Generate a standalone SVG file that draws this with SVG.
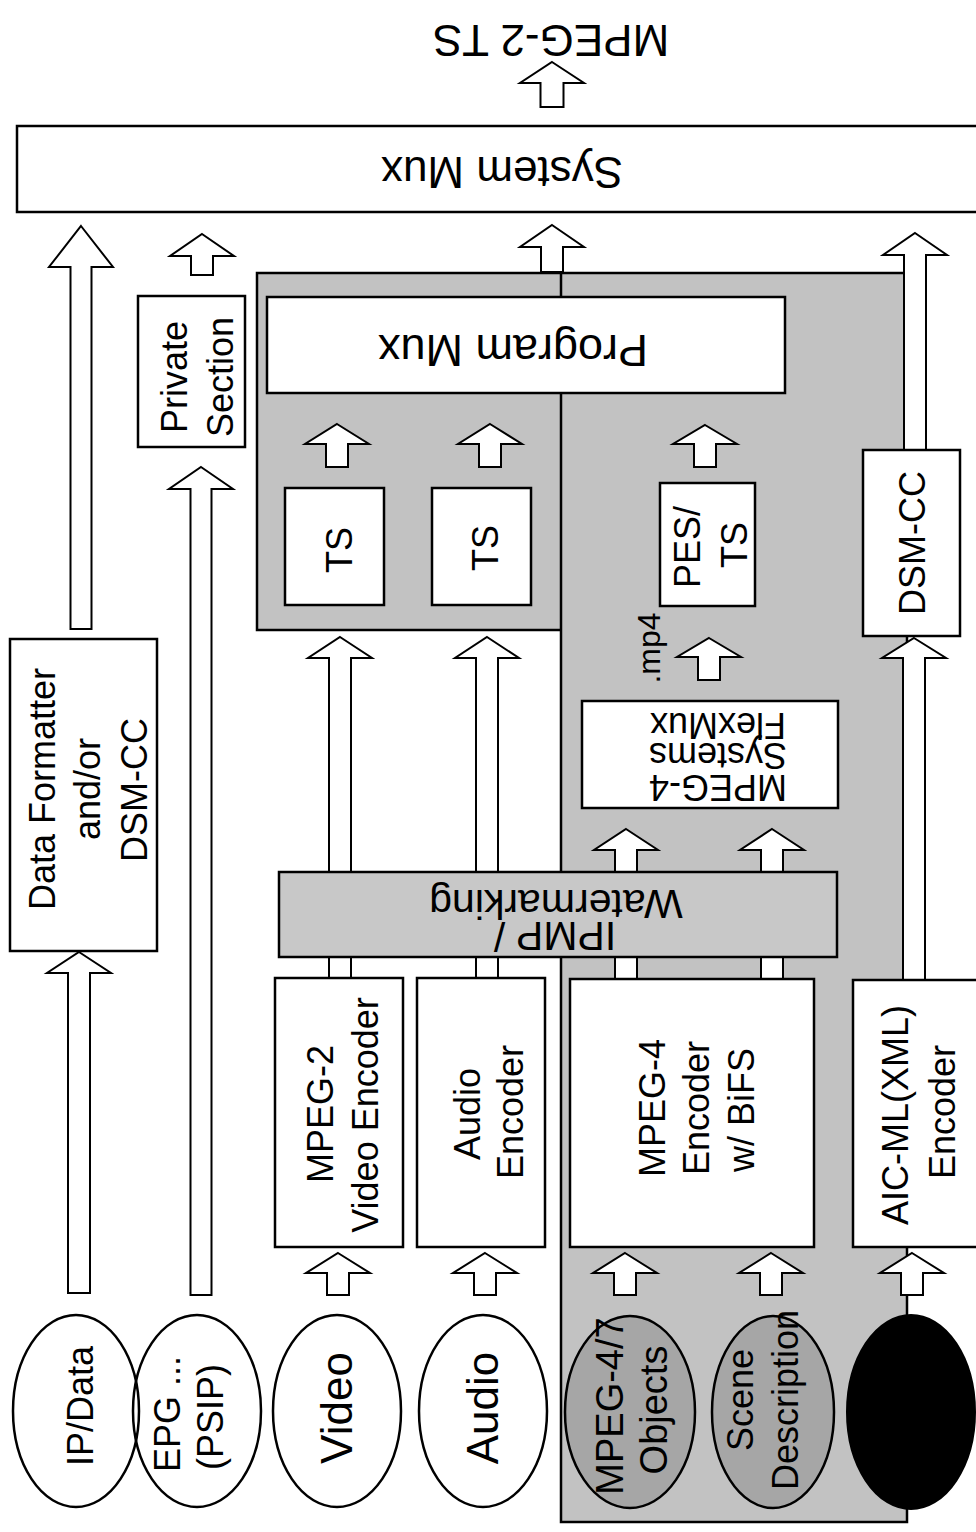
<svg xmlns="http://www.w3.org/2000/svg" width="976" height="1532" viewBox="0 0 976 1532">
<style>
.box{fill:#fff;stroke:#000;stroke-width:2.5}
.gbox{fill:#c8c8c8;stroke:#000;stroke-width:2.5}
.region{fill:#c2c2c2;stroke:#000;stroke-width:2.5}
.arr{fill:#fff;stroke:#000;stroke-width:2}
.ell{fill:#fff;stroke:#000;stroke-width:2.5}
.gell{fill:#a6a6a6;stroke:#000;stroke-width:2.5}
.t{font-family:"Liberation Sans",Arial,sans-serif;font-size:36px;fill:#000;text-anchor:middle}
.big{font-size:44px}
</style>
<rect width="976" height="1532" fill="#fff"/>
<g id="regions">
<rect class="region" x="257" y="273" width="305" height="357"/>
<rect class="region" x="561" y="273" width="346" height="1249"/>
</g>
<g id="connectors">
<path class="arr" d="M552,62 L584,83 L563.5,83 L563.5,107 L540.5,107 L540.5,83 L520,83 Z"/>
<path class="arr" d="M81,226 L113,267 L91.5,267 L91.5,629 L70.5,629 L70.5,267 L49,267 Z"/>
<path class="arr" d="M202,234 L234,256 L213,256 L213,275 L191,275 L191,256 L170,256 Z"/>
<path class="arr" d="M552,225 L584,247 L563,247 L563,272 L541,272 L541,247 L520,247 Z"/>
<path class="arr" d="M915,233 L947,255 L926,255 L926,450 L904,450 L904,255 L883,255 Z"/>
<path class="arr" d="M201,467 L233,489 L211.5,489 L211.5,1295 L190.5,1295 L190.5,489 L169,489 Z"/>
<path class="arr" d="M79,952 L111,973 L90,973 L90,1293 L68,1293 L68,973 L47,973 Z"/>
<path class="arr" d="M337,424 L369,444 L348,444 L348,467 L326,467 L326,444 L305,444 Z"/>
<path class="arr" d="M490,424 L522,444 L501,444 L501,467 L479,467 L479,444 L458,444 Z"/>
<path class="arr" d="M705,425 L737,444 L716,444 L716,467 L694,467 L694,444 L673,444 Z"/>
<path class="arr" d="M709,638 L741,657 L720,657 L720,680 L698,680 L698,657 L677,657 Z"/>
<path class="arr" d="M340,637 L372,658 L351,658 L351,978 L329,978 L329,658 L308,658 Z"/>
<path class="arr" d="M487,637 L519,658 L498,658 L498,978 L476,978 L476,658 L455,658 Z"/>
<path class="arr" d="M626,829 L658,850 L637,850 L637,979 L615,979 L615,850 L594,850 Z"/>
<path class="arr" d="M772,829 L804,850 L783,850 L783,979 L761,979 L761,850 L740,850 Z"/>
<path class="arr" d="M914,638 L946,658 L925,658 L925,980 L903,980 L903,658 L882,658 Z"/>
<path class="arr" d="M338,1253 L370,1273 L349,1273 L349,1295 L327,1295 L327,1273 L306,1273 Z"/>
<path class="arr" d="M485,1253 L517,1273 L496,1273 L496,1295 L474,1295 L474,1273 L453,1273 Z"/>
<path class="arr" d="M625,1253 L657,1273 L636,1273 L636,1295 L614,1295 L614,1273 L593,1273 Z"/>
<path class="arr" d="M771,1253 L803,1273 L782,1273 L782,1295 L760,1295 L760,1273 L739,1273 Z"/>
<path class="arr" d="M912,1253 L944,1273 L923,1273 L923,1295 L901,1295 L901,1273 L880,1273 Z"/>
</g>
<text class="t big" x="551" y="25" transform="rotate(180 551 25)">MPEG-2 TS</text>
<g id="system-mux">
<rect class="box" x="17" y="126" width="975" height="86"/>
<text class="t big" x="502" y="157" transform="rotate(180 502 157)">System Mux</text>
</g>
<g id="private-section">
<rect class="box" x="138" y="296" width="107" height="151"/>
<text class="t" x="187" y="377" transform="rotate(-90 187 377)">Private</text>
<text class="t" x="233" y="377" transform="rotate(-90 233 377)">Section</text>
</g>
<g id="data-formatter">
<rect class="box" x="10" y="639" width="147" height="312"/>
<text class="t" x="55" y="789" transform="rotate(-90 55 789)">Data Formatter</text>
<text class="t" x="100" y="789" transform="rotate(-90 100 789)">and/or</text>
<text class="t" x="147" y="790" transform="rotate(-90 147 790)">DSM-CC</text>
</g>
<g id="program-mux">
<rect class="box" x="267" y="297" width="518" height="96"/>
<text class="t" style="font-size:45px" x="513" y="335" transform="rotate(180 513 335)">Program Mux</text>
</g>
<g id="ts1">
<rect class="box" x="285" y="488" width="99" height="117"/>
<text class="t" x="352" y="550" transform="rotate(-90 352 550)">TS</text>
</g>
<g id="ts2">
<rect class="box" x="432" y="488" width="99" height="117"/>
<text class="t" x="498" y="548" transform="rotate(-90 498 548)">TS</text>
</g>
<g id="pes-ts">
<rect class="box" x="660" y="483" width="95" height="123"/>
<text class="t" x="700" y="547" transform="rotate(-90 700 547)">PES/</text>
<text class="t" x="747" y="545" transform="rotate(-90 747 545)">TS</text>
</g>
<text class="t" style="font-size:32px" x="660" y="648" transform="rotate(-90 660 648)">.mp4</text>
<g id="dsm-cc">
<rect class="box" x="863" y="450" width="97" height="186"/>
<text class="t" x="925" y="543" transform="rotate(-90 925 543)">DSM-CC</text>
</g>
<g id="flexmux">
<rect class="box" x="582" y="701" width="256" height="107"/>
<text class="t" x="718" y="775" transform="rotate(180 718 775)">MPEG-4</text>
<text class="t" x="718" y="743" transform="rotate(180 718 743)">Systems</text>
<text class="t" x="718" y="713" transform="rotate(180 718 713)">FlexMux</text>
</g>
<g id="ipmp">
<rect class="gbox" x="279" y="872" width="558" height="85"/>
<text class="t" style="font-size:41px" x="555" y="922" transform="rotate(180 555 922)">IPMP /</text>
<text class="t" style="font-size:41px" x="556" y="890" transform="rotate(180 556 890)">Watermarking</text>
</g>
<g id="mpeg2-encoder">
<rect class="box" x="275" y="978" width="128" height="269"/>
<text class="t" x="333" y="1114" transform="rotate(-90 333 1114)">MPEG-2</text>
<text class="t" x="378" y="1115" transform="rotate(-90 378 1115)">Video Encoder</text>
</g>
<g id="audio-encoder">
<rect class="box" x="417" y="978" width="128" height="269"/>
<text class="t" x="480" y="1114" transform="rotate(-90 480 1114)">Audio</text>
<text class="t" x="523" y="1112" transform="rotate(-90 523 1112)">Encoder</text>
</g>
<g id="mpeg4-encoder">
<rect class="box" x="570" y="979" width="244" height="268"/>
<text class="t" x="665" y="1108" transform="rotate(-90 665 1108)">MPEG-4</text>
<text class="t" x="709" y="1108" transform="rotate(-90 709 1108)">Encoder</text>
<text class="t" x="754" y="1110" transform="rotate(-90 754 1110)">w/ BiFS</text>
</g>
<g id="aic-encoder">
<rect class="box" x="853" y="980" width="140" height="267"/>
<text class="t" x="908" y="1115" transform="rotate(-90 908 1115)">AIC-ML(XML)</text>
<text class="t" x="955" y="1112" transform="rotate(-90 955 1112)">Encoder</text>
</g>
<g id="ip-data">
<ellipse cx="76" cy="1411" rx="63" ry="96" fill="none" stroke="#000" stroke-width="2.5"/>
<text class="t" x="93" y="1406" transform="rotate(-90 93 1406)">IP/Data</text>
</g>
<g id="epg">
<ellipse cx="197" cy="1411" rx="64" ry="96" fill="none" stroke="#000" stroke-width="2.5"/>
<text class="t" x="180" y="1414" transform="rotate(-90 180 1414)">EPG ...</text>
<text class="t" x="223" y="1417" transform="rotate(-90 223 1417)">(PSIP)</text>
</g>
<g id="video">
<ellipse class="ell" cx="337" cy="1411" rx="64" ry="96"/>
<text class="t big" x="352" y="1408" transform="rotate(-90 352 1408)">Video</text>
</g>
<g id="audio">
<ellipse class="ell" cx="483" cy="1411" rx="64" ry="96"/>
<text class="t big" x="498" y="1408" transform="rotate(-90 498 1408)">Audio</text>
</g>
<g id="mpeg47-objects">
<ellipse class="gell" cx="630" cy="1412" rx="65" ry="96"/>
<text class="t" style="font-size:38px" x="623" y="1406" transform="rotate(-90 623 1406)">MPEG-4/7</text>
<text class="t" style="font-size:38px" x="667" y="1410" transform="rotate(-90 667 1410)">Objects</text>
</g>
<g id="scene-description">
<ellipse class="gell" cx="773" cy="1412" rx="61" ry="96"/>
<text class="t" x="753" y="1400" transform="rotate(-90 753 1400)">Scene</text>
<text class="t" x="798" y="1400" transform="rotate(-90 798 1400)">Description</text>
</g>
<g id="black-source">
<ellipse cx="911" cy="1412" rx="64" ry="97" fill="#000" stroke="#000" stroke-width="2"/>
</g>
</svg>
